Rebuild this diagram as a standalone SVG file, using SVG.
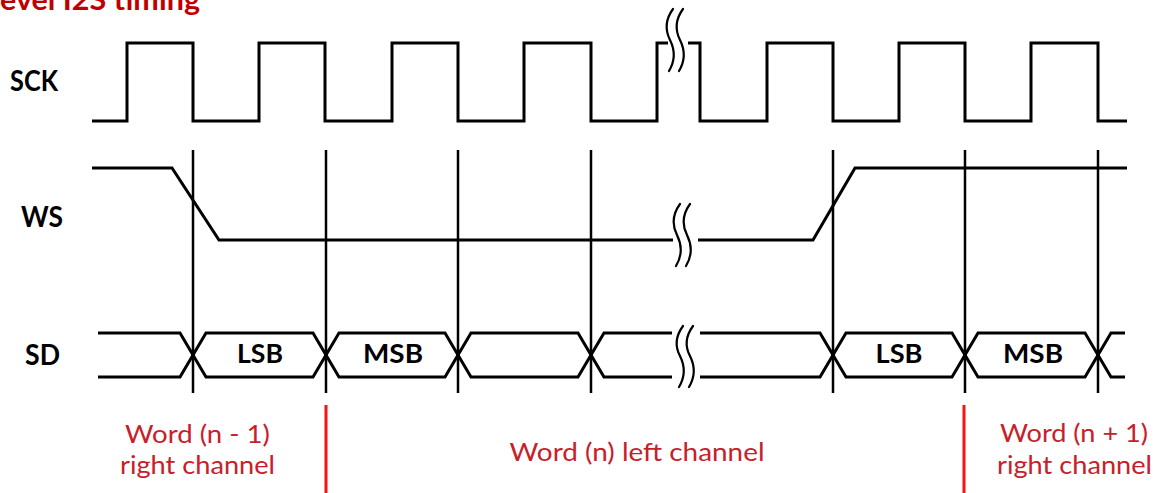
<svg xmlns="http://www.w3.org/2000/svg" width="1165" height="493" viewBox="0 0 1165 493">
<style>
.w{fill:none;stroke:#000;stroke-width:3;stroke-linejoin:miter}
.v{fill:none;stroke:#000;stroke-width:2.5}
.brk{fill:none;stroke:#000;stroke-width:2.2;stroke-linecap:round}
.lbl{font-family:Lato,"Liberation Sans",sans-serif;font-weight:bold;font-size:29px;fill:#000}
.cell{font-family:Lato,"Liberation Sans",sans-serif;font-weight:bold;font-size:27px;fill:#000;text-anchor:middle}
.red{font-family:Lato,"Liberation Sans",sans-serif;font-size:25px;fill:#C8202A;text-anchor:middle}
.rl{stroke:#FF1010;stroke-width:3}
</style>
<rect width="1165" height="493" fill="#fff"/>
<g id="title"><text x="0" y="10" font-family="Lato,'Liberation Sans',sans-serif" font-weight="bold" font-size="28" fill="#C00000" textLength="200" lengthAdjust="spacingAndGlyphs">evel I2S timing</text></g>
<g id="labels">
<text class="lbl" x="10" y="91" textLength="48" lengthAdjust="spacingAndGlyphs">SCK</text>
<text class="lbl" x="21" y="227" textLength="42" lengthAdjust="spacingAndGlyphs">WS</text>
<text class="lbl" x="25" y="365" textLength="35" lengthAdjust="spacingAndGlyphs">SD</text>
</g>
<g id="connectors">
<g id="sck">
<path class="w" d="M92,121 H127 V43 H193 V121 H259 V43 H325 V121 H392 V43 H458 V121 H524 V43 H591 V121 H657 V43 H668"/>
<path class="w" d="M688,43 H700 V121 H767 V43 H833 V121 H899 V43 H965 V121 H1031 V43 H1098 V121 H1127"/>
</g>
<g id="clock-edges">
<path class="v" d="M193,150 V393 M326,150 V393 M458,150 V393 M591,150 V393 M833,150 V393 M965,150 V393 M1098,150 V393"/>
</g>
<g id="ws">
<path class="w" d="M92,168 H172 L219,240 H673"/>
<path class="w" d="M698,240 H813 L855,168 H1127"/>
</g>
<g id="sd">
<path class="w" d="M98,333 H180 L206,377 H313 L339,333 H445 L471,377 H578 L604,333 H672"/>
<path class="w" d="M98,377 H180 L206,333 H313 L339,377 H445 L471,333 H578 L604,377 H672"/>
<path class="w" d="M700,333 H820 L846,377 H952 L978,333 H1085 L1111,377 H1125"/>
<path class="w" d="M700,377 H820 L846,333 H952 L978,377 H1085 L1111,333 H1125"/>
</g>
<g id="breaks">
<path class="brk" d="M673,9 Q662,24 670,40 Q678,56 669,71 M683,9 Q672,24 680,40 Q688,56 679,71"/>
<path class="brk" d="M680,204 Q669,219 677,235 Q685,251 676,266 M690,204 Q679,219 687,235 Q695,251 686,266"/>
<path class="brk" d="M683,326 Q672,341 680,356 Q688,372 679,387 M693,326 Q682,341 690,356 Q698,372 689,387"/>
</g>
<g id="word-dividers">
<line class="rl" x1="326" y1="405" x2="326" y2="493"/>
<line class="rl" x1="964" y1="405" x2="964" y2="493"/>
</g>
</g>
<g id="cell-lsb1"><text class="cell" x="260" y="363" textLength="46" lengthAdjust="spacingAndGlyphs">LSB</text></g>
<g id="cell-msb1"><text class="cell" x="393" y="363" textLength="60" lengthAdjust="spacingAndGlyphs">MSB</text></g>
<g id="cell-lsb2"><text class="cell" x="899" y="363" textLength="47" lengthAdjust="spacingAndGlyphs">LSB</text></g>
<g id="cell-msb2"><text class="cell" x="1033" y="363" textLength="60" lengthAdjust="spacingAndGlyphs">MSB</text></g>
<g id="word-n-1">
<text class="red" x="197.5" y="443" textLength="145" lengthAdjust="spacingAndGlyphs">Word (n - 1)</text>
<text class="red" x="197.5" y="474" textLength="155" lengthAdjust="spacingAndGlyphs">right channel</text>
</g>
<g id="word-n"><text class="red" x="637" y="461" textLength="255" lengthAdjust="spacingAndGlyphs">Word (n) left channel</text></g>
<g id="word-n+1">
<text class="red" x="1074" y="442" textLength="148" lengthAdjust="spacingAndGlyphs">Word (n + 1)</text>
<text class="red" x="1074.5" y="474" textLength="155" lengthAdjust="spacingAndGlyphs">right channel</text>
</g>
</svg>
